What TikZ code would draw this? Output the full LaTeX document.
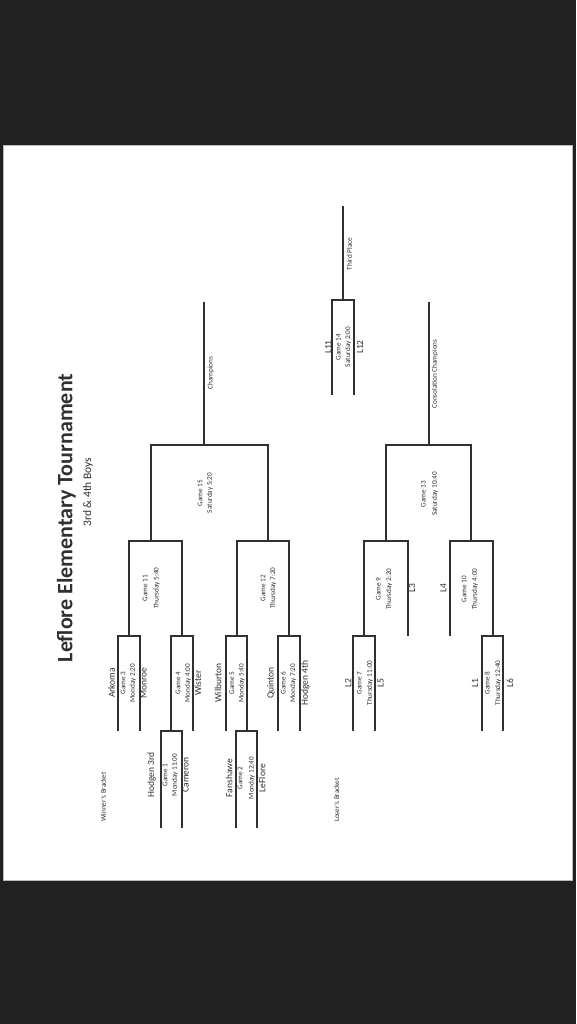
\documentclass[tikz,border=0pt]{standalone}
\usepackage{fontspec}
\setmainfont{Carlito}
\usepackage{xcolor}
\definecolor{scanbg}{HTML}{212121}
\definecolor{ink}{HTML}{303030}

\tikzset{
  brk/.style={draw=ink, line width=2pt},
  team/.style={rotate=90, inner sep=0pt, text=ink, font=\fontsize{9.5}{10}\selectfont},
  info/.style={rotate=90, inner sep=0pt, text=ink, font=\fontsize{7.2}{8}\selectfont},
}
% open bracket: left x, right x, top y, bottom y
\newcommand{\gamebox}[4]{\draw[brk] (#1,#4) |- (#2,#3) -- (#2,#4);}

\begin{document}
\begin{tikzpicture}[x=1pt,y=-1pt]
\useasboundingbox (0,0) rectangle (576,1024);
\fill[scanbg] (0,0) rectangle (576,1024);
\draw[gray!55, fill=white, line width=0.8pt] (3.5,145) rectangle (572.5,880.5);

% heading
\node[rotate=90, text=ink, font=\fontsize{22}{24}\selectfont\bfseries] (title) at (66.5,518) {Leflore Elementary Tournament};
\node[rotate=90, text=ink, font=\fontsize{11.5}{12}\selectfont] (sub) at (88,492) {3rd \& 4th Boys};
\node[info] (wb) at (103.3,797) {Winner's Bracket};
\node[info] (lb) at (336.7,800) {Loser's Bracket};

% winner's bracket, first round
\gamebox{117.7}{140}{635.7}{731}
\node[team] (ark) at (111.7,683) {Arkoma};
\node[info] (g3) at (123,683) {Game 3};
\node[info] (g3t) at (133,683) {Monday 2:20};
\node[team] (mon) at (143.5,683) {Monroe};

\gamebox{171}{192.7}{635.7}{731}
\node[info] (g4) at (178,683) {Game 4};
\node[info] (g4t) at (188,683) {Monday 4:00};
\node[team] (wis) at (198,683) {Wister};

\gamebox{160.7}{182.3}{731}{828}
\node[team] (hod3) at (151.7,775) {Hodgen 3rd};
\node[info] (g1) at (165,775) {Game 1};
\node[info] (g1t) at (175,775) {Monday 11:00};
\node[team] (cam) at (185.5,775) {Cameron};

\gamebox{225.7}{246.7}{635.7}{731}
\node[team] (wil) at (218,683) {Wilburton};
\node[info] (g5) at (231.7,683) {Game 5};
\node[info] (g5t) at (241.7,683) {Monday 5:40};

\gamebox{236}{257.3}{731}{828}
\node[team] (fan) at (229,778) {Fanshawe};
\node[info] (g2) at (240,778) {Game 2};
\node[info] (g2t) at (251.7,778) {Monday 12:40};
\node[team] (lef) at (262,778) {LeFlore};

\gamebox{278.3}{300}{635.7}{731}
\node[team] (qui) at (271,683) {Quinton};
\node[info] (g6) at (283.3,683) {Game 6};
\node[info] (g6t) at (293.3,683) {Monday 7:20};
\node[team] (hod4) at (305.5,683) {Hodgen 4th};

% winner's bracket, later rounds
\gamebox{129.3}{182}{540.7}{635.7}
\node[info] (g11) at (145,588) {Game 11};
\node[info] (g11t) at (156.7,588) {Thursday 5:40};

\gamebox{236.5}{289.3}{540.7}{635.7}
\node[info] (g12) at (263,588) {Game 12};
\node[info] (g12t) at (273.3,588) {Thursday 7:20};

\gamebox{150.7}{268.3}{444.7}{540.7}
\node[info] (g15) at (200,493) {Game 15};
\node[info] (g15t) at (210,493) {Saturday 5:20};

\coordinate (ch) at (204.3,301.7);
\coordinate (g15top) at (204.3,444.7);
\draw[brk] (ch) -- (g15top);
\node[info] (champ) at (210.7,373) {Champions};

% third place game
\gamebox{332.3}{354}{300}{395}
\node[team] (l11) at (328.3,347) {L11};
\node[info] (g14) at (338.3,347) {Game 14};
\node[info] (g14t) at (348.3,347) {Saturday 2:00};
\node[team] (l12) at (360,347) {L12};

\coordinate (tp) at (343.2,205.7);
\coordinate (g14top) at (343.2,300);
\draw[brk] (tp) -- (g14top);
\node[info] (third) at (349.3,254) {Third Place};

% loser's bracket
\gamebox{353.3}{375}{635.7}{731}
\node[team] (l2) at (348.3,683) {L2};
\node[info] (g7) at (359.3,683) {Game 7};
\node[info] (g7t) at (370,683) {Thursday 11:00};
\node[team] (l5) at (380.5,683) {L5};

\gamebox{481.7}{503.3}{635.7}{731}
\node[team] (l1) at (475,683) {L1};
\node[info] (g8) at (487.3,683) {Game 8};
\node[info] (g8t) at (498.3,683) {Thursday 12:40};
\node[team] (l6) at (510,683) {L6};

\gamebox{364.2}{407.7}{540.7}{635.7}
\node[info] (g9) at (378.3,589) {Game 9};
\node[info] (g9t) at (389.3,589) {Thursday 2:20};
\node[team] (l3) at (412,588) {L3};

\gamebox{450}{492.8}{540.7}{635.7}
\node[team] (l4) at (443.3,588) {L4};
\node[info] (g10) at (464,589) {Game 10};
\node[info] (g10t) at (475,589) {Thursday 4:00};

\gamebox{385.8}{471.4}{444.5}{540.7}
\node[info] (g13) at (423.3,494) {Game 13};
\node[info] (g13t) at (435,494) {Saturday 10:40};

\coordinate (cc) at (428.6,301.7);
\coordinate (g13top) at (428.6,444.5);
\draw[brk] (cc) -- (g13top);
\node[info] (cons) at (435,374) {Consolation Champions};
\end{tikzpicture}
\end{document}
